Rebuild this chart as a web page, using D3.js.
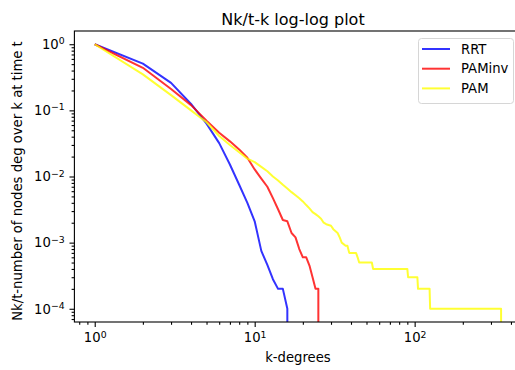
<!DOCTYPE html>
<html>
<head>
<meta charset="utf-8">
<script src="https://cdn.jsdelivr.net/npm/d3@7"></script>
<style>
  body { margin: 0; background: #fff; }
  svg { display: block; }
  text { font-family: "DejaVu Sans", sans-serif; fill: #000; }
</style>
</head>
<body>
<div id="chart"></div>
<script>
// degree k and Nk/t (0 = no node left, drawn clipped like matplotlib)
const kRRT = [1, 2, 3, 4, 5, 6, 7, 8, 9, 10, 11, 12, 13, 14, 15, 16, 17];
const valRRT = [1, 0.51, 0.26, 0.125, 0.063, 0.032, 0.0152, 0.0075, 0.004, 0.0021, 0.00075, 0.00046, 0.00028, 0.0002, 0.0002, 0.0001, 0];

const kPAMinv = [1, 2, 3, 4, 5, 6, 7, 8, 9, 10, 11, 12, 13, 14, 15, 16, 17, 18, 19, 20, 21, 22, 23, 24, 25, 26];
const valPAMinv = [1, 0.44, 0.21, 0.12, 0.07, 0.046, 0.034, 0.0257, 0.0192, 0.0128, 0.0093, 0.007, 0.0047, 0.0032, 0.0022, 0.0021, 0.0014, 0.0012, 0.0008, 0.0006, 0.0006, 0.00045, 0.0003, 0.0002, 0.0002, 0];

const kPAM = [1, 2, 3, 4, 5, 6, 7, 8, 9, 10, 11, 12, 13, 14, 15, 16, 17, 18, 19, 20, 21, 22, 23, 24, 25, 26, 27, 28, 30, 31, 33, 34, 35, 37, 38, 39, 43, 44, 45, 54, 55, 90, 91, 104, 105, 124, 125, 347, 348];
const valPAM = [1, 0.35, 0.17, 0.1, 0.066, 0.041, 0.03, 0.0233, 0.0186, 0.0165, 0.014, 0.012, 0.01, 0.0087, 0.0075, 0.0066, 0.0058, 0.0052, 0.0047, 0.0042, 0.0037, 0.0033, 0.0029, 0.0027, 0.0025, 0.0023, 0.002, 0.0019, 0.0018, 0.0016, 0.0014, 0.0012, 0.001, 0.0009, 0.0009, 0.0007, 0.0007, 0.0006, 0.0005, 0.0005, 0.0004, 0.0004, 0.0003, 0.0003, 0.0002, 0.0002, 0.0001, 0.0001, 0];

const seriesNames = ['RRT', 'PAMinv', 'PAM'];
const seriesColors = ['blue', 'red', 'yellow'];

const series = [
  { name: seriesNames[0], color: seriesColors[0], k: kRRT, v: valRRT },
  { name: seriesNames[1], color: seriesColors[1], k: kPAMinv, v: valPAMinv },
  { name: seriesNames[2], color: seriesColors[2], k: kPAM, v: valPAM }
];

const width = 515;
const height = 370;
const axLeft = 74.4, axRight = 521.4, axTop = 31, axBottom = 322;

// matplotlib style 5% margins in log space
const allK = series.flatMap(s => s.k.filter((k, i) => s.v[i] > 0));
const allV = series.flatMap(s => s.v.filter(v => v > 0));
const [kMin, kMax] = d3.extent(allK);
const [vMin, vMax] = d3.extent(allV);
const xPad = 0.05 * Math.log10(kMax / kMin);
const yPad = 0.05 * Math.log10(vMax / vMin);

const x = d3.scaleLog()
  .domain([kMin / 10 ** xPad, kMax * 10 ** xPad])
  .range([axLeft, axRight]);
const y = d3.scaleLog()
  .domain([vMin / 10 ** yPad, vMax * 10 ** yPad])
  .range([axBottom, axTop]);

const svg = d3.select('#chart')
  .append('svg')
  .attr('width', width)
  .attr('height', height)
  .attr('viewBox', [0, 0, width, height]);

svg.append('clipPath').attr('id', 'plotClip')
  .append('rect')
  .attr('x', axLeft).attr('y', axTop)
  .attr('width', axRight - axLeft).attr('height', axBottom - axTop);

const isMajor = d => Math.abs(Math.log10(d) - Math.round(Math.log10(d))) < 1e-9;
const expo = d => {
  const e = Math.round(Math.log10(d));
  return e < 0 ? '\u2212' + Math.abs(e) : String(e);
};

// axes
function styleAxis(g) {
  g.attr('font-family', null).attr('font-size', null);
  g.select('.domain').remove();
  g.selectAll('.tick line').attr('stroke', '#000').attr('stroke-width', 1.1);
}
function addExponent(g) {
  g.selectAll('.tick text')
    .attr('font-size', 13.2)
    .append('tspan')
    .attr('dy', '-0.5em')
    .attr('font-size', 9.3)
    .text(d => expo(d));
}

const xMajor = x.ticks().filter(isMajor);
const xMinor = x.ticks().filter(d => !isMajor(d));
svg.append('g')
  .attr('transform', `translate(0,${axBottom})`)
  .call(d3.axisBottom(x).tickValues(xMinor).tickSize(2.8).tickFormat(''))
  .call(styleAxis);
svg.append('g')
  .attr('transform', `translate(0,${axBottom})`)
  .call(d3.axisBottom(x).tickValues(xMajor).tickSize(4.9).tickPadding(6).tickFormat(() => '10'))
  .call(styleAxis)
  .call(addExponent);

const yMajor = y.ticks().filter(isMajor);
const yMinor = y.ticks().filter(d => !isMajor(d));
svg.append('g')
  .attr('transform', `translate(${axLeft},0)`)
  .call(d3.axisLeft(y).tickValues(yMinor).tickSize(2.8).tickFormat(''))
  .call(styleAxis);
svg.append('g')
  .attr('transform', `translate(${axLeft},0)`)
  .call(d3.axisLeft(y).tickValues(yMajor).tickSize(4.9).tickPadding(4.9).tickFormat(() => '10'))
  .call(styleAxis)
  .call(addExponent);

// lines
const line = d3.line()
  .x(d => x(d[0]))
  .y(d => y(d[1] > 0 ? d[1] : 1e-300));

svg.append('g')
  .attr('clip-path', 'url(#plotClip)')
  .selectAll('path')
  .data(series)
  .enter()
  .append('path')
  .attr('d', s => line(s.k.map((k, i) => [k, s.v[i]])))
  .attr('fill', 'none')
  .attr('stroke', s => s.color)
  .attr('stroke-opacity', 0.8)
  .attr('stroke-width', 2)
  .attr('stroke-linejoin', 'round');

// frame
svg.append('rect')
  .attr('x', axLeft).attr('y', axTop)
  .attr('width', axRight - axLeft).attr('height', axBottom - axTop)
  .attr('fill', 'none')
  .attr('stroke', '#000')
  .attr('stroke-width', 1.1);

// titles
svg.append('text')
  .attr('x', 293)
  .attr('y', 25)
  .attr('text-anchor', 'middle')
  .attr('font-size', 16)
  .text('Nk/t-k log-log plot');

svg.append('text')
  .attr('x', (axLeft + axRight) / 2)
  .attr('y', 362)
  .attr('text-anchor', 'middle')
  .attr('font-size', 13.2)
  .text('k-degrees');

svg.append('text')
  .attr('transform', `translate(22,181) rotate(-90)`)
  .attr('text-anchor', 'middle')
  .attr('font-size', 13.2)
  .text('Nk/t-number of nodes deg over k at time t');

// legend
const legend = svg.append('g').attr('transform', 'translate(418.5,38.5)');
legend.append('rect')
  .attr('width', 95)
  .attr('height', 65)
  .attr('rx', 3)
  .attr('fill', 'white')
  .attr('fill-opacity', 0.8)
  .attr('stroke', '#d6d6d6')
  .attr('stroke-width', 1);
const rows = legend.selectAll('g.row')
  .data(series)
  .enter()
  .append('g')
  .attr('class', 'row')
  .attr('transform', (d, i) => `translate(0,${10.5 + i * 19.7})`);
rows.append('line')
  .attr('x1', 3.5).attr('x2', 31.5)
  .attr('stroke', d => d.color)
  .attr('stroke-opacity', 0.8)
  .attr('stroke-width', 2);
rows.append('text')
  .attr('x', 42.5)
  .attr('y', 4.7)
  .attr('font-size', 13.2)
  .text(d => d.name);
</script>
</body>
</html>
